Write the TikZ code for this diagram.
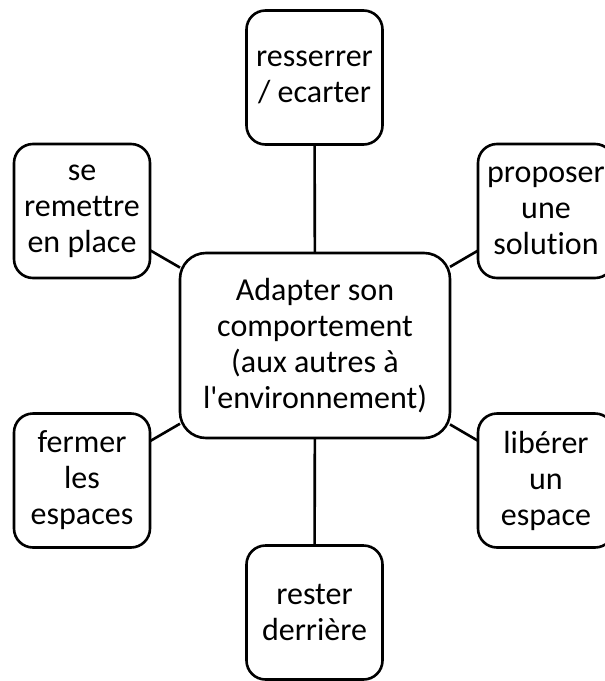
\documentclass[tikz,border=0pt]{standalone}
\usepackage{fontspec}
\setmainfont{Carlito}[Ligatures={NoCommon}]
\begin{document}
\begin{tikzpicture}[x=0.5pt,y=-0.5pt,
  box/.style={draw=black, line width=1.3pt, rounded corners=9.5pt, inner sep=0pt, outer sep=0pt,
    align=center, font=\fontsize{16}{18}\selectfont, minimum width=68pt, minimum height=67pt},
  hub/.style={box, rounded corners=13pt, minimum width=135pt, minimum height=92.5pt},
  link/.style={draw=black, line width=1.3pt}]
\useasboundingbox (0,0) rectangle (605,681);
\node[hub] (c) at (315,345.5) {Adapter son\\comportement\\(aux autres à\\l\textquotesingle environnement)};
\node[box] (top) at (314.5,77.5) {resserrer\\/ ecarter};
\node[box] (lt) at (82,211) {se\\remettre\\en place};
\node[box] (rt) at (546,211) {proposer\\une\\solution};
\node[box] (lb) at (82,480.5) {fermer\\les\\espaces};
\node[box] (rb) at (546,480.5) {libérer\\un\\espace};
\node[box] (bot) at (314.5,612.5) {rester\\derrière};
\draw[link] (c) -- (top);
\draw[link] (c) -- (lt);
\draw[link] (c) -- (rt);
\draw[link] (c) -- (lb);
\draw[link] (c) -- (rb);
\draw[link] (c) -- (bot);
\end{tikzpicture}
\end{document}
